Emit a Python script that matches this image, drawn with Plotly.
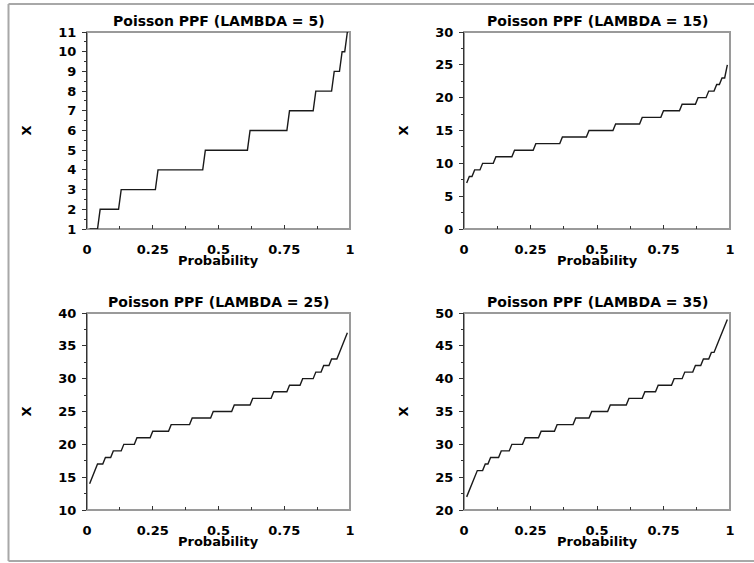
import numpy as np
import plotly.graph_objects as go

# ---- data (step levels and the probability where each level starts) ----
lam5_levels = [1, 2, 3, 4, 5, 6, 7, 8, 9, 10, 11]
lam5_starts = [0.01, 0.05, 0.13, 0.27, 0.45, 0.62, 0.77, 0.87, 0.94, 0.97, 0.99]

lam15_levels = [7, 8, 9, 10, 11, 12, 13, 14, 15, 16, 17, 18, 19, 20, 21, 22, 23, 25]
lam15_starts = [0.01, 0.02, 0.04, 0.07, 0.12, 0.19, 0.27, 0.37, 0.47, 0.57, 0.67,
                0.75, 0.82, 0.88, 0.92, 0.95, 0.97, 0.99]

lam25_levels = [14, 15, 16, 17, 18, 19, 20, 21, 22, 23, 24, 25, 26, 27, 28, 29, 30,
                31, 32, 33, 34, 35, 36, 37]
lam25_starts = [0.01, 0.02, 0.03, 0.04, 0.07, 0.10, 0.14, 0.19, 0.25, 0.32, 0.40,
                0.48, 0.56, 0.63, 0.71, 0.77, 0.82, 0.87, 0.90, 0.93, 0.96, 0.97,
                0.98, 0.99]

lam35_levels = [22, 23, 24, 25, 26, 27, 28, 29, 30, 31, 32, 33, 34, 35, 36, 37, 38,
                39, 40, 41, 42, 43, 44, 45, 46, 47, 48, 49]
lam35_starts = [0.01, 0.02, 0.03, 0.04, 0.05, 0.08, 0.10, 0.14, 0.18, 0.23, 0.29,
                0.35, 0.42, 0.48, 0.55, 0.62, 0.68, 0.73, 0.79, 0.83, 0.87, 0.90,
                0.93, 0.95, 0.96, 0.97, 0.98, 0.99]

lambdas = [5, 15, 25, 35]
y_ranges = [[1, 11], [0, 30], [10, 40], [20, 50]]
y_dticks = [1, 5, 5, 5]
x_ticks = [0, 0.25, 0.5, 0.75, 1]
x_ticklabels = ["0", "0.25", "0.5", "0.75", "1"]

panels = [(lam5_levels, lam5_starts), (lam15_levels, lam15_starts),
          (lam25_levels, lam25_starts), (lam35_levels, lam35_starts)]

# sampled probability grid of the original plot
prob_grid = np.round(np.arange(1, 100) / 100.0, 2)

W, H = 754, 563
# pixel boxes of the four plot areas (left, right, top, bottom)
boxes = [(87, 350, 32, 229), (464, 730, 32, 229),
         (87, 350, 313, 510), (464, 730, 313, 510)]

FONT = "DejaVu Sans"
fig = go.Figure()
annotations = []
shapes = []

for i, ((levels, starts), box) in enumerate(zip(panels, boxes)):
    idx = np.searchsorted(np.array(starts), prob_grid + 1e-9, side="right") - 1
    yvals = np.array(levels)[idx]
    ax = "" if i == 0 else str(i + 1)
    fig.add_trace(go.Scatter(x=prob_grid, y=yvals, mode="lines",
                             line=dict(color="#1a1a1a", width=1.4),
                             xaxis="x" + ax, yaxis="y" + ax, showlegend=False,
                             hoverinfo="skip"))
    l, r, t, b = box
    xd = [l / W, r / W]
    yd = [1 - b / H, 1 - t / H]
    fig.update_layout(**{
        "xaxis" + ax: dict(domain=xd, range=[0, 1], anchor="y" + ax, automargin=False,
                           tickmode="array", tickvals=x_ticks, ticktext=x_ticklabels,
                           ticks="inside", ticklen=4, tickcolor="#333",
                           minor=dict(dtick=0.125, ticks="inside", ticklen=3, tickcolor="#333"),
                           showline=False, showgrid=False, zeroline=False,
                           tickfont=dict(family=FONT, size=13, color="black", weight="bold"),
                           ticklabelstandoff=11, fixedrange=True),
        "yaxis" + ax: dict(domain=yd, range=y_ranges[i], anchor="x" + ax, automargin=False,
                           dtick=y_dticks[i], tick0=y_ranges[i][0],
                           ticks="outside", ticklen=4, tickcolor="#333",
                           minor=dict(dtick=y_dticks[i] / 2, ticks="outside", ticklen=2,
                                      tickcolor="#333"),
                           showline=True, linecolor="#333", linewidth=1,
                           showgrid=False, zeroline=False,
                           tickfont=dict(family=FONT, size=13, color="black", weight="bold"),
                           ticklabelstandoff=3, fixedrange=True),
    })
    # plot box
    shapes.append(dict(type="rect", xref="x" + ax + " domain", yref="y" + ax + " domain",
                       x0=0, x1=1, y0=0, y1=1, line=dict(color="#9a9a9a", width=2),
                       layer="below"))
    cx = (l + r) / 2 / W
    annotations.append(dict(text="Poisson PPF (LAMBDA = %d)" % lambdas[i],
                            x=cx, y=1 - (t - 11) / H, xref="paper", yref="paper",
                            showarrow=False, xanchor="center", yanchor="middle",
                            font=dict(family=FONT, size=14, color="black", weight="bold")))
    annotations.append(dict(text="Probability", x=cx, y=1 - (b + 31) / H,
                            xref="paper", yref="paper", showarrow=False,
                            xanchor="center", yanchor="middle",
                            font=dict(family=FONT, size=13, color="black", weight="bold")))
    annotations.append(dict(text="X", x=(l - 61) / W, y=1 - (t + b) / 2 / H,
                            xref="paper", yref="paper", showarrow=False, textangle=-90,
                            xanchor="center", yanchor="middle",
                            font=dict(family=FONT, size=13, color="black", weight="bold")))

# outer frame (left, top, bottom)
shapes.append(dict(type="line", xref="paper", yref="paper", x0=8.5 / W, x1=8.5 / W,
                   y0=1 - 561 / H, y1=1 - 4 / H, line=dict(color="#a8a8a8", width=2)))
shapes.append(dict(type="line", xref="paper", yref="paper", x0=8.5 / W, x1=1.0,
                   y0=1 - 4 / H, y1=1 - 4 / H, line=dict(color="#a8a8a8", width=2)))
shapes.append(dict(type="line", xref="paper", yref="paper", x0=8.5 / W, x1=1.0,
                   y0=1 - 561 / H, y1=1 - 561 / H, line=dict(color="#a8a8a8", width=2)))

fig.update_layout(width=W, height=H, margin=dict(l=0, r=0, t=0, b=0, autoexpand=False),
                  paper_bgcolor="white", plot_bgcolor="white",
                  annotations=annotations, shapes=shapes,
                  font=dict(family=FONT, size=13, color="black"))

fig.write_html("out.html", config={"displayModeBar": False},
               post_script="document.body.style.margin='0';document.body.style.overflow='hidden';")
